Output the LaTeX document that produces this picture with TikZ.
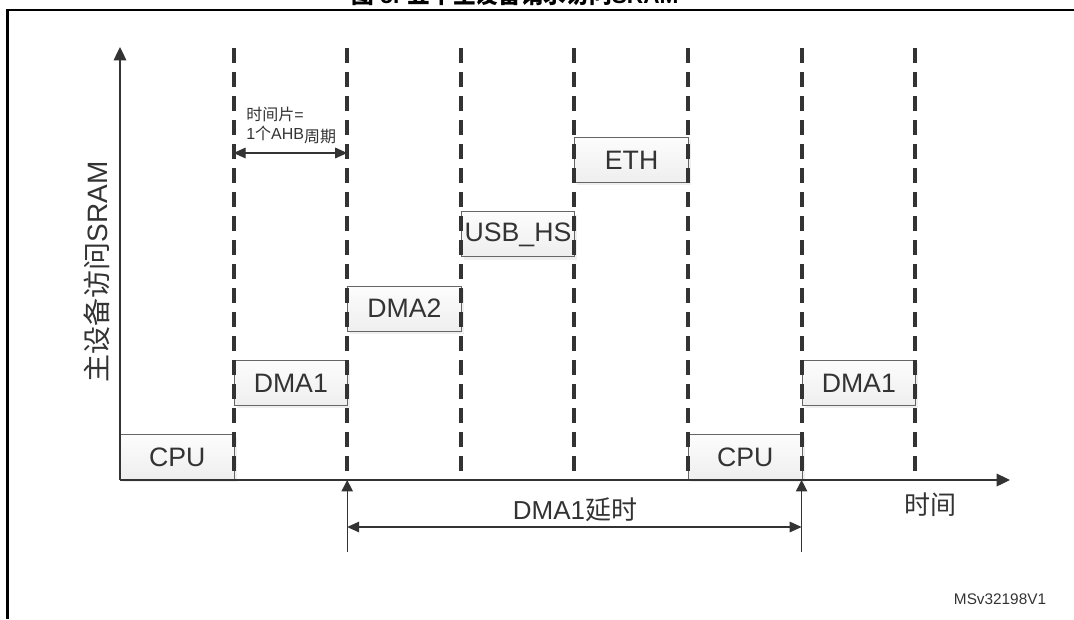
\documentclass[tikz,border=0pt]{standalone}
\usepackage{fontspec}
\setmainfont{Liberation Sans}
\newfontfamily\cjk{Noto Sans CJK SC}
\usetikzlibrary{arrows.meta,shadows}
\definecolor{ink}{HTML}{333333}
\definecolor{boxline}{HTML}{666666}
\tikzset{
  slotbox/.style={draw=boxline,line width=0.6pt,top color=gray!2,bottom color=gray!13,
                  minimum width=85.2pt,minimum height=33.75pt,inner sep=0pt,
                  anchor=south west,text=ink,font=\fontsize{20}{22}\selectfont,
                  drop shadow={shadow xshift=2pt,shadow yshift=-2pt,fill=black!12}},
  slotline/.style={draw=ink,line width=3pt,dash pattern=on 11.5pt off 6.5pt},
  axisarr/.style={-{Triangle[length=10pt,width=9.5pt]},draw=ink,line width=0.9pt},
  dimarr/.style={{Triangle[length=9pt,width=8pt]}-{Triangle[length=9pt,width=8pt]},
                 draw=ink,line width=0.8pt},
  uparr/.style={-{Triangle[length=8.5pt,width=8.5pt]},draw=ink,line width=0.8pt},
  frame/.style={draw=black,line width=1.6pt},
  biglabel/.style={text=ink,font=\fontsize{19.5}{22}\selectfont},
  smalllabel/.style={text=ink,font=\fontsize{12}{14}\selectfont}
}
\begin{document}
\begin{tikzpicture}[x=0.75pt,y=-0.75pt]
  \path[use as bounding box] (0,0) rectangle (1074,619);
  % frame and title
  \node[anchor=base,font=\fontsize{17}{20}\selectfont\bfseries] (title) at (515,3)
    {{\cjk 图} 5. {\cjk 五个主设备请求访问}SRAM};
  \draw[frame] (1074,10) -- (7.5,10) -- (7.5,619);
  % time slots
  \coordinate (o) at (120,480);
  \coordinate (ytip) at (120,47);
  \coordinate (xtip) at (1010,480);
  \foreach \i in {1,...,7}{
    \coordinate (t\i) at (120+113.6*\i,480);
    \coordinate (u\i) at (120+113.6*\i,48);
  }
  % master requests
  \foreach \lab/\k/\lvl in {CPU/0/0,DMA1/1/1,DMA2/2/2,USB\_HS/3/3,ETH/4/4,CPU/5/0,DMA1/6/1}
    \node[slotbox] (b\k) at (120+113.6*\k,480-74.25*\lvl) {\lab};
  \foreach \i in {1,...,7}
    \draw[slotline] (u\i) -- (t\i);
  % axes
  \draw[axisarr] (o) -- (ytip);
  \draw[axisarr] (o) -- (xtip);
  \node[text=ink,font=\fontsize{21}{24}\selectfont,rotate=90] (ylab) at (97,272)
    {{\cjk 主设备访问}SRAM};
  \node[biglabel] (xlab) at (930,505) {\cjk 时间};
  % one slice
  \coordinate (sl) at (t1 |- 0,153);
  \coordinate (sr) at (t2 |- 0,153);
  \draw[dimarr] (sl) -- (sr);
  \node[smalllabel,anchor=north west,inner sep=0pt,align=left] (slice) at (246,107)
    {{\cjk 时间片}=\\1{\cjk 个}AHB\raisebox{-2pt}{\cjk 周期}};
  % latency
  \coordinate (d1) at (t2 |- 0,552);
  \coordinate (d2) at (t6 |- 0,552);
  \coordinate (h1) at (t2 |- 0,527);
  \coordinate (h2) at (t6 |- 0,527);
  \draw[uparr] (d1) -- (t2);
  \draw[uparr] (d2) -- (t6);
  \draw[dimarr] (h1) -- (h2);
  \node[biglabel] (lat) at (575,510) {DMA1{\cjk 延时}};
  \node[text=ink,font=\fontsize{11.5}{14}\selectfont] (ref) at (1000,599) {MSv32198V1};
\end{tikzpicture}
\end{document}
